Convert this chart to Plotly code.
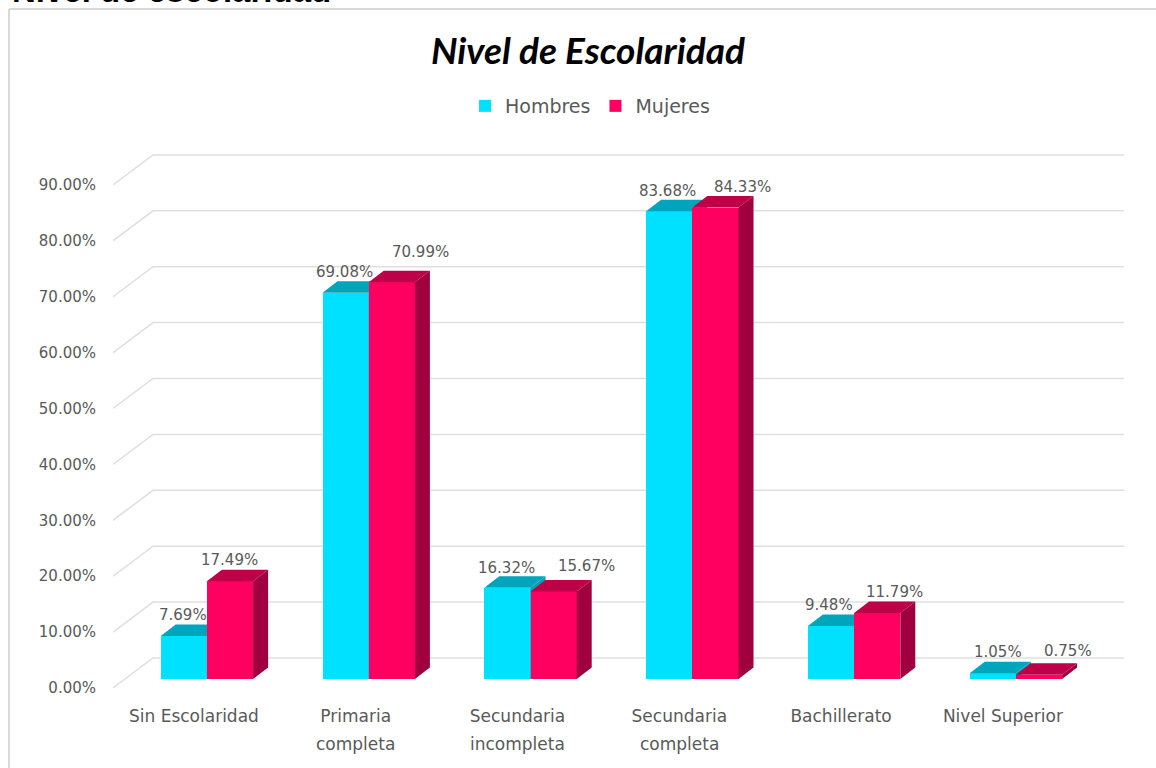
import plotly.graph_objects as go

categories = ["Sin Escolaridad", "Primaria", "Secundaria", "Secundaria", "Bachillerato", "Nivel Superior"]
second_line = ["", "completa", "incompleta", "completa", "", ""]
hombres = [7.69, 69.08, 16.32, 83.68, 9.48, 1.05]
mujeres = [17.49, 70.99, 15.67, 84.33, 11.79, 0.75]
y_ticks = [0, 10, 20, 30, 40, 50, 60, 70, 80, 90]
y_tick_text = ["0.00%", "10.00%", "20.00%", "30.00%", "40.00%", "50.00%", "60.00%", "70.00%", "80.00%", "90.00%"]
tick_pos = [0, 1, 2, 3, 4, 5]
label_shift_h = [(-1, 21), (-1, 21), (-1, 20), (-2, 20), (-2, 21), (5, 21)]
label_shift_m = [(-1, 21), (29, 30), (33, 25), (27, 21), (17, 21), (29, 24)]

W, H = 1156, 768
L, R, T, B = 113, 1124, 140, 700
CAT = 161.8
PPU = 5.59
Y_FRONT = 688
Y_BAR = 679
x_lo = -0.5
x_hi = x_lo + (R - L) / CAT
bar_w = 46.2 / CAT
off = 13 / CAT
dx = 15 / CAT
dy = 11.5 / PPU

CYAN, CYAN_TOP, CYAN_SIDE = "#00E0FF", "#00A5BC", "#009FB6"
RED, RED_TOP, RED_SIDE = "#FF0060", "#BE0048", "#A00040"
TEXT = "#595959"
FONT = "DejaVu Sans, sans-serif"

fig = go.Figure()

gx, gy = [], []
for t in y_ticks:
    gx += [x_lo, x_lo + 40 / CAT, x_hi, None]
    gy += [t, t + 30 / PPU, t + 30 / PPU, None]
fig.add_trace(go.Scatter(x=gx, y=gy, mode="lines", line=dict(color="#DFDFDF", width=1.5),
                         hoverinfo="skip", showlegend=False, yaxis="y"))


def add_series(name, values, x_left_off, front, top, side, yaxis):
    centers = [i + x_left_off + bar_w / 2 for i in range(len(values))]
    fig.add_trace(go.Bar(x=centers, y=values, width=bar_w, name=name, yaxis=yaxis,
                         marker=dict(color=front, line=dict(width=0))))
    sx, sy, tx, ty = [], [], [], []
    for c, v in zip(centers, values):
        a, b = c - bar_w / 2, c + bar_w / 2
        sx += [b, b + dx, b + dx, b, b, None]
        sy += [0, dy, v + dy, v, 0, None]
        tx += [a, a + dx, b + dx, b, a, None]
        ty += [v, v + dy, v + dy, v, v, None]
    for xs, ys, col in ((sx, sy, side), (tx, ty, top)):
        fig.add_trace(go.Scatter(x=xs, y=ys, mode="lines", fill="toself", fillcolor=col,
                                 line=dict(width=0, color=col), hoverinfo="skip",
                                 showlegend=False, yaxis=yaxis))
    return centers


cen_h = add_series("Hombres", hombres, off - bar_w, CYAN, CYAN_TOP, CYAN_SIDE, "y2")
cen_m = add_series("Mujeres", mujeres, off, RED, RED_TOP, RED_SIDE, "y3")

ann = []
for centers, vals, shifts, yr in ((cen_h, hombres, label_shift_h, "y2"), (cen_m, mujeres, label_shift_m, "y3")):
    for c, v, (sx_, sy_) in zip(centers, vals, shifts):
        ann.append(dict(x=c, y=v, xref="x", yref=yr, text=f"{v:.2f}%", showarrow=False,
                        xshift=sx_, yshift=sy_, yanchor="middle", xanchor="center",
                        font=dict(family=FONT, size=15, color=TEXT)))
for i, s in enumerate(second_line):
    if s:
        ann.append(dict(x=i, y=-(744 - B) / (B - T), xref="x", yref="paper", text=s, showarrow=False,
                        yanchor="middle", xanchor="center", font=dict(family=FONT, size=17, color=TEXT)))
ann.append(dict(x=(588 - L) / (R - L), y=(B - 50) / (B - T), xref="paper", yref="paper",
                text="<b><i>Nivel de Escolaridad</i></b>", showarrow=False, xanchor="center", yanchor="middle",
                font=dict(family="Lato, sans-serif", size=37, color="#000000")))
ann.append(dict(x=(10 - L) / (R - L), y=(B + 10) / (B - T), xref="paper", yref="paper",
                text="<b>Nivel de escolaridad</b>", showarrow=False, xanchor="left", yanchor="middle",
                font=dict(family="Liberation Sans", size=33, color="#000000")))

rng_main = [(Y_FRONT - B) / PPU, (Y_FRONT - T) / PPU]
rng_bar = [(Y_BAR - B) / PPU, (Y_BAR - T) / PPU]

fig.update_layout(
    width=W, height=H, margin=dict(l=L, r=W - R, t=T, b=H - B, pad=0, autoexpand=False),
    paper_bgcolor="white", plot_bgcolor="white", barmode="overlay", bargap=0,
    annotations=ann,
    showlegend=True,
    legend=dict(orientation="h", x=(465 - L) / (R - L), y=(B - 106) / (B - T), xanchor="left", yanchor="middle",
                font=dict(family=FONT, size=19, color=TEXT), bgcolor="rgba(0,0,0,0)", traceorder="normal"),
    xaxis=dict(range=[x_lo, x_hi], tickmode="array", tickvals=tick_pos, ticktext=categories,
               showgrid=False, zeroline=False, showline=False, ticks="outside", ticklen=1,
               tickcolor="rgba(0,0,0,0)", tickfont=dict(family=FONT, size=17, color=TEXT), tickangle=0),
    yaxis=dict(range=rng_main, tickmode="array", tickvals=y_ticks, ticktext=y_tick_text,
               showgrid=False, zeroline=False, showline=False, ticks="outside", ticklen=13,
               tickcolor="rgba(0,0,0,0)", tickfont=dict(family=FONT, size=15, color=TEXT)),
    yaxis2=dict(range=rng_bar, overlaying="y", visible=False),
    yaxis3=dict(range=rng_bar, overlaying="y", visible=False),
    shapes=[
        dict(type="line", xref="paper", yref="paper", x0=(9 - L) / (R - L), x1=(W - L) / (R - L),
             y0=(B - 9) / (B - T), y1=(B - 9) / (B - T), line=dict(color="#D9D9D9", width=2)),
        dict(type="line", xref="paper", yref="paper", x0=(9 - L) / (R - L), x1=(9 - L) / (R - L),
             y0=(B - 9) / (B - T), y1=(B - H) / (B - T), line=dict(color="#D9D9D9", width=2)),
    ],
)

fig.write_html("out.html", config={"displayModeBar": False},
               post_script="document.body.style.margin='0';document.body.style.overflow='hidden';")
